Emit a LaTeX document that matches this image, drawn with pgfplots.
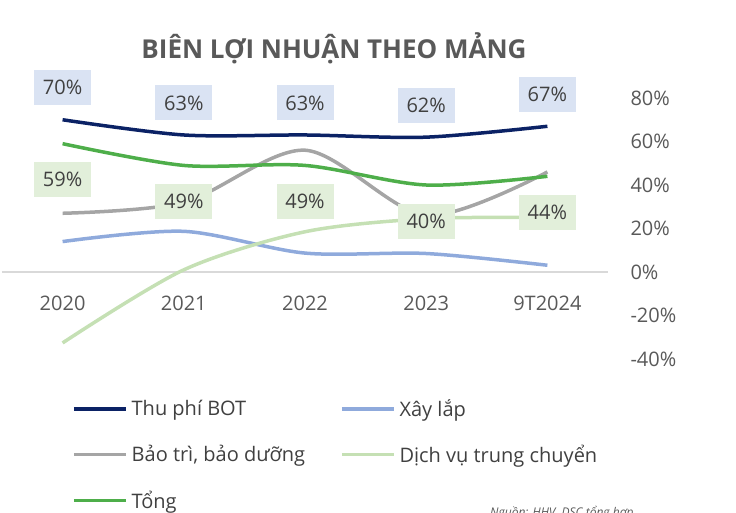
\documentclass[border=0pt]{standalone}
\usepackage{pgfplots}
\pgfplotsset{compat=1.18}
\usepackage{fontspec}
\setmainfont{Open Sans}
\definecolor{bot}{HTML}{0B2265}
\definecolor{xaylap}{HTML}{8FAADC}
\definecolor{baotri}{HTML}{A5A5A5}
\definecolor{dichvu}{HTML}{C5E0B4}
\definecolor{tong}{HTML}{4EAE4A}
\definecolor{botbox}{HTML}{DAE3F3}
\definecolor{tongbox}{HTML}{E2EFDA}
\definecolor{txt}{HTML}{595959}
\definecolor{dtxt}{HTML}{404040}
\definecolor{zline}{HTML}{D9D9D9}
\begin{document}
\begin{tikzpicture}
\useasboundingbox (0pt,0pt) rectangle (736pt,512pt);
\begin{axis}[
  at={(2pt,153pt)}, anchor=south west,
  scale only axis, width=606pt, height=261pt,
  xmin=-0.5, xmax=4.5, ymin=-40, ymax=80,
  clip=false,
  axis x line*=middle,
  axis y line*=right,
  x axis line style={zline, line width=1.5pt, -},
  y axis line style={draw=none},
  xtick={0,1,2,3,4},
  xticklabels={2020,2021,2022,2023,9T2024},
  xtick style={draw=none},
  xticklabel style={anchor=center, yshift=-31pt, font=\fontsize{20}{24}\selectfont, text=txt},
  ytick={-40,-20,0,20,40,60,80},
  ytick style={draw=none},
  yticklabel={\pgfmathprintnumber{\tick}\%},
  yticklabel style={anchor=west, xshift=19pt, font=\fontsize{20}{24}\selectfont, text=txt},
  /pgf/number format/assume math mode=true,
  legend columns=2,
  legend cell align=left,
  legend image code/.code={\draw[#1, line width=3.5pt] (0pt,0pt) -- (52pt,0pt);},
  legend style={at={(0.1155,-0.155)}, anchor=north west, draw=none, fill=none,
    font=\fontsize{20}{24}\selectfont, text=dtxt, inner sep=0pt, row sep=27pt,
    nodes={inner xsep=4pt, inner ysep=0pt},
    /tikz/every odd column/.append style={column sep=0pt},
    /tikz/every even column/.append style={column sep=31pt}},
]
\addplot[bot, line width=3.5pt, smooth, tension=0.5,
  nodes near coords={\pgfmathprintnumber{\pgfplotspointmeta}\%},
  every node near coord/.append style={fill=botbox, text=dtxt, anchor=center, yshift=32pt,
    minimum width=57pt, minimum height=35pt, inner sep=0pt, font=\fontsize{20}{24}\selectfont}]
  coordinates {(0,70)(1,63)(2,63)(3,62)(4,67)};
\addlegendentry{Thu phí BOT}
\addplot[xaylap, line width=3.5pt, smooth, tension=0.5]
  coordinates {(0,14)(1,18.7)(2,8.7)(3,8.5)(4,3.1)};
\addlegendentry{Xây lắp}
\addplot[baotri, line width=3.5pt, smooth, tension=0.5]
  coordinates {(0,27)(1,32)(2,56)(3,26)(4,46)};
\addlegendentry{Bảo trì, bảo dưỡng}
\addplot[dichvu, line width=3.5pt, smooth, tension=0.5]
  coordinates {(0,-32.6)(1,1)(2,18.5)(3,24.5)(4,25.1)};
\addlegendentry{Dịch vụ trung chuyển}
\addplot[tong, line width=3.5pt, smooth, tension=0.5,
  nodes near coords={\pgfmathprintnumber{\pgfplotspointmeta}\%},
  every node near coord/.append style={fill=tongbox, text=dtxt, anchor=center, yshift=-36pt,
    minimum width=57pt, minimum height=35pt, inner sep=0pt, font=\fontsize{20}{24}\selectfont}]
  coordinates {(0,59)(1,49)(2,49)(3,40)(4,44)};
\addlegendentry{Tổng}
\end{axis}
\node[font=\bfseries\fontsize{26}{30}\selectfont, text=txt] at (334pt,464pt) {BIÊN LỢI NHUẬN THEO MẢNG};
\node[font=\itshape\fontsize{12}{14}\selectfont, text=txt, anchor=north west, inner sep=0pt] at (490pt,6pt) {Nguồn: HHV, DSC tổng hợp};
\end{tikzpicture}
\end{document}
